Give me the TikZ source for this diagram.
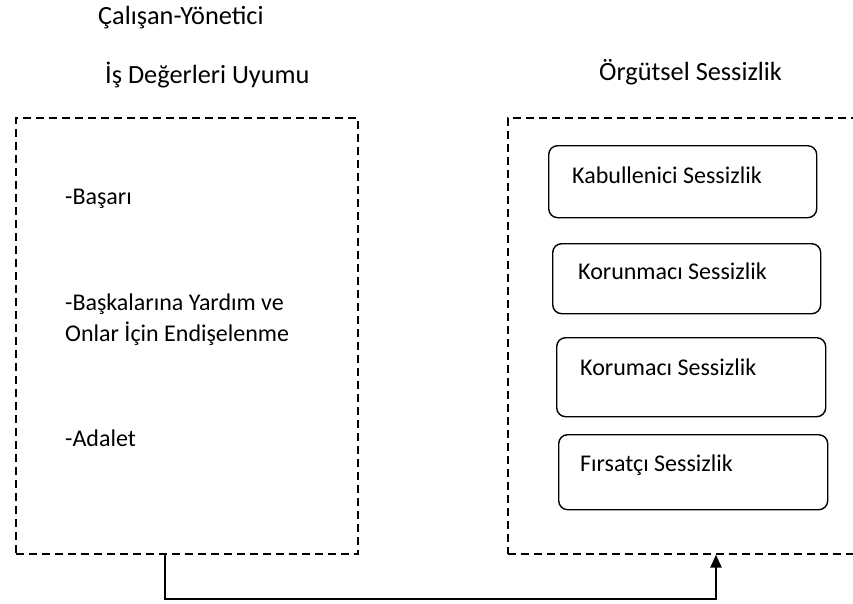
\documentclass[tikz,border=0pt]{standalone}
\usepackage{fontspec}
\setmainfont{Carlito}
\usetikzlibrary{calc,arrows.meta}
\begin{document}
\begin{tikzpicture}[x=1pt,y=-1pt,
  txt/.style={font=\fontsize{24}{31}\selectfont, inner sep=0pt, anchor=west},
  head/.style={font=\fontsize{26.3}{31}\selectfont, inner sep=0pt, anchor=west},
  groupbox/.style={draw, line width=1.6pt, dash pattern=on 8pt off 5pt, inner sep=0pt, anchor=north west},
  silbox/.style={draw, line width=1.4pt, rounded corners=9pt, inner sep=0pt, anchor=north west},
  flow/.style={line width=2.2pt, -{Triangle[length=13pt,width=11pt]}}]
\useasboundingbox (0,0) rectangle (853,603);
\fill[white] (0,0) rectangle (853,603);
\clip (0,0) rectangle (853,603);

% headings
\node[head] (h1) at (98,18) {Çalışan-Yönetici};
\node[head] (h2) at (105,75) {İş Değerleri Uyumu};
\node[head] (h3) at (599,72) {Örgütsel Sessizlik};

% left group: work values
\node[groupbox, minimum width=342pt, minimum height=436pt] (lbox) at (15,117) {};
\node[txt] (v1) at (65,199) {-Başarı};
\node[txt, align=left] (v2) at (65,320) {-Başkalarına Yardım ve\\Onlar İçin Endişelenme};
\node[txt] (v3) at (65,438) {-Adalet};

% right group: organisational silence
\node[groupbox, minimum width=380pt, minimum height=436pt] (rbox) at (507,117) {};

\node[silbox, minimum width=268pt, minimum height=72pt] (s1) at (548,145) {};
\node[txt] (t1) at (572,175) {Kabullenici Sessizlik};

\node[silbox, minimum width=268pt, minimum height=70pt] (s2) at (552,243) {};
\node[txt] (t2) at (578,271) {Korunmacı Sessizlik};

\node[silbox, minimum width=269pt, minimum height=79pt] (s3) at (556,337) {};
\node[txt] (t3) at (580,367) {Korumacı Sessizlik};

\node[silbox, minimum width=269pt, minimum height=75pt] (s4) at (558,434) {};
\node[txt] (t4) at (580,465) {Fırsatçı Sessizlik};

% connector from the values group to the silence group
\coordinate (src) at ($(lbox.south west)+(150,0)$);
\coordinate (dst) at ($(rbox.south west)+(209,0)$);
\draw[flow] (src) -- ++(0,44) -| (dst);
\end{tikzpicture}
\end{document}
